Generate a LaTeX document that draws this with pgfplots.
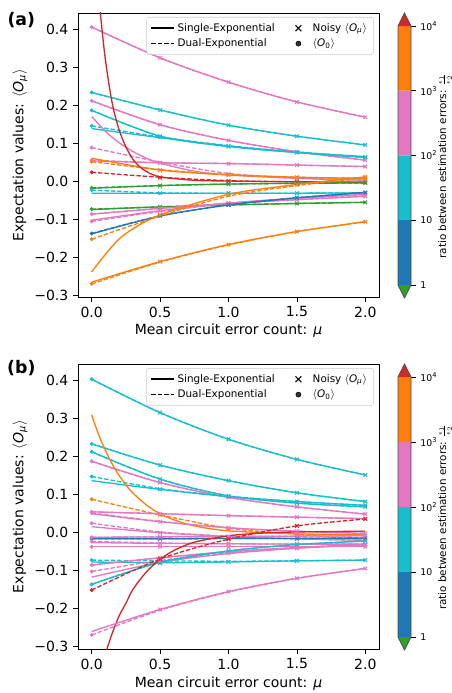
\documentclass[border=0pt]{standalone}
\usepackage{pgfplots}
\pgfplotsset{compat=1.18}
\usepackage{fontspec}
\setmainfont{DejaVu Sans}

\definecolor{cB}{HTML}{1F77B4}
\definecolor{cO}{HTML}{FF7F0E}
\definecolor{cG}{HTML}{2CA02C}
\definecolor{cR}{HTML}{D62728}
\definecolor{cP}{HTML}{E377C2}
\definecolor{cC}{HTML}{17BECF}

\pgfplotsset{
 fitS/.style={draw=#1, line width=1pt, smooth, mark=none},
 fitD/.style={draw=#1, line width=1pt, smooth, mark=none, dash pattern=on 3.3pt off 1.5pt},
 noisy/.style={color=#1, only marks, mark=x, mark size=1.9pt, mark options={line width=0.8pt}},
 truev/.style={color=#1, only marks, mark=*, mark size=1.3pt},
 mainax/.style={
  scale only axis, width=225.75pt,
  xmin=-0.1, xmax=2.1,
  xtick={0,0.5,1,1.5,2}, xticklabels={0.0,0.5,1.0,1.5,2.0},
  ytick={-0.3,-0.2,-0.1,0,0.1,0.2,0.3,0.4},
  yticklabels={−0.3,−0.2,−0.1,0.0,0.1,0.2,0.3,0.4},
  tick align=outside, tick pos=left,
  major tick length=3.7pt,
  every tick/.style={black, line width=0.6pt},
  axis line style={line width=0.6pt},
  ticklabel style={font=\fontsize{10.5}{12}\selectfont},
  xlabel={Mean circuit error count: \textit{μ}},
  ylabel={Expectation values: $\langle$\textit{O}\textsubscript{\textit{μ}}$\rangle$},
  label style={font=\fontsize{10.5}{12}\selectfont},
  xlabel style={at={(axis description cs:0.5,-0.12)}, anchor=center},
  ylabel style={at={(axis description cs:-0.193,0.5)}, anchor=center},
  legend columns=2,
  legend cell align=left,
  legend style={at={(axis description cs:0.983,0.986)}, anchor=north east,
   font=\fontsize{7.8}{9.5}\selectfont, draw=black!20, rounded corners=2pt,
   fill=white, fill opacity=0.8, text opacity=1, inner xsep=3pt, inner ysep=2.5pt,
   /tikz/every even column/.append style={column sep=7pt}},
 },
 cbar/.style={
  scale only axis, width=9.75pt, height=194.25pt,
  xmin=0, xmax=1, ymin=0, ymax=4, clip=false,
  axis line style={draw=none},
  xtick=\empty,
  ytick={0,1,2,3,4}, yticklabels={1,10,10\textsuperscript{2},10\textsuperscript{3},10\textsuperscript{4}},
  ytick pos=right, yticklabel pos=right,
  tick align=outside, major tick length=3.5pt,
  every tick/.style={black,line width=0.6pt},
  yticklabel style={font=\fontsize{7}{8}\selectfont},
  ylabel={ratio between estimation errors: ${\scriptstyle\frac{\epsilon_1}{\epsilon_2}}$},
  ylabel style={at={(axis description cs:3.62,0.46)}, anchor=center, font=\fontsize{7.8}{9}\selectfont},
 },
}
\newcommand\obs[5]{%
 \addplot[fitS=#1] coordinates {#3};
 \addplot[fitD=#1] coordinates {#4};
 \addplot[noisy=#1] coordinates {#5};
 \addplot[truev=#1] coordinates {(0,#2)};
}
\newcommand\legendset{%
 \addlegendimage{black, line width=1.2pt}
 \addlegendentry{Single-Exponential}
 \addlegendimage{legend image code/.code={%
   \draw[black, line width=0.8pt] (0.3cm-2.2pt,-2.2pt) -- (0.3cm+2.2pt,2.2pt) (0.3cm-2.2pt,2.2pt) -- (0.3cm+2.2pt,-2.2pt);
   \path (0cm,0cm) (0.6cm,0cm);}}
 \addlegendentry{Noisy $\langle$\textit{O}\textsubscript{\textit{μ}}$\rangle$}
 \addlegendimage{black, line width=0.8pt, dash pattern=on 3.3pt off 1.5pt}
 \addlegendentry{Dual-Exponential}
 \addlegendimage{legend image code/.code={%
   \fill[black] (0.3cm,0cm) circle (1.9pt);
   \path (0cm,0cm) (0.6cm,0cm);}}
 \addlegendentry{$\langle$\textit{O}\textsubscript{0}$\rangle$}
}
\newcommand\cbarbody{%
 \addplot[fill=cG, draw=none, mark=none] coordinates {(0,0) (1,0) (0.5,-0.2) (0,0)};
 \addplot[fill=cB, draw=none, mark=none] coordinates {(0,0) (1,0) (1,1) (0,1) (0,0)};
 \addplot[fill=cC, draw=none, mark=none] coordinates {(0,1) (1,1) (1,2) (0,2) (0,1)};
 \addplot[fill=cP, draw=none, mark=none] coordinates {(0,2) (1,2) (1,3) (0,3) (0,2)};
 \addplot[fill=cO, draw=none, mark=none] coordinates {(0,3) (1,3) (1,4) (0,4) (0,3)};
 \addplot[fill=cR, draw=none, mark=none] coordinates {(0,4) (1,4) (0.5,4.2) (0,4)};
 \addplot[draw=black!70, line width=0.6pt, mark=none] coordinates {(0,0) (0.5,-0.2) (1,0) (1,4) (0.5,4.2) (0,4) (0,0)};
}

\begin{document}
\begin{tikzpicture}
\useasboundingbox (0,0) rectangle (339pt,519.75pt);

% ---------------- panel (a)
\begin{axis}[mainax, at={(58.5pt,297pt)}, anchor=south west, height=213pt, ymin=-0.305, ymax=0.442]
\legendset
\obs{cP}{0.405}{(0,0.405) (0.5,0.324) (1,0.260) (1.5,0.208) (2,0.168)}{(0,0.405) (0.5,0.324) (1,0.260) (1.5,0.208) (2,0.168)}{(0.5,0.324) (1,0.260) (1.5,0.208) (2,0.168)}
\obs{cC}{0.233}{(0,0.233) (0.5,0.187) (1,0.147) (1.5,0.118) (2,0.095)}{(0,0.233) (0.5,0.187) (1,0.147) (1.5,0.118) (2,0.095)}{(0.5,0.187) (1,0.147) (1.5,0.118) (2,0.095)}
\obs{cP}{0.211}{(0,0.211) (0.5,0.148) (1,0.107) (1.5,0.077) (2,0.055)}{(0,0.211) (0.5,0.148) (1,0.107) (1.5,0.077) (2,0.055)}{(0.5,0.148) (1,0.107) (1.5,0.077) (2,0.055)}
\obs{cC}{0.186}{(0,0.186) (0.5,0.118) (1,0.091) (1.5,0.075) (2,0.062)}{(0,0.186) (0.5,0.118) (1,0.091) (1.5,0.075) (2,0.062)}{(0.5,0.118) (1,0.091) (1.5,0.075) (2,0.062)}
\obs{cC}{0.145}{(0,0.138) (0.5,0.114) (1,0.092) (1.5,0.076) (2,0.064)}{(0,0.145) (0.5,0.116) (1,0.093) (1.5,0.076) (2,0.064)}{(0.5,0.115) (1,0.092) (1.5,0.076) (2,0.063)}
\obs{cP}{0.088}{(0,0.170) (0.1,0.131) (0.2,0.101) (0.3,0.078) (0.4,0.060) (0.5,0.047) (0.75,0.026) (1,0.016) (1.5,0.007) (2,0.002)}{(0,0.088) (0.5,0.050) (1,0.020) (1.5,0.008) (2,0.003)}{(0.5,0.048) (1,0.018) (1.5,0.007) (2,0.002)}
\obs{cP}{0.055}{(0,0.053) (0.5,0.048) (1,0.046) (1.5,0.042) (2,0.038)}{(0,0.055) (0.5,0.048) (1,0.046) (1.5,0.042) (2,0.038)}{(0.5,0.048) (1,0.046) (1.5,0.042) (2,0.038)}
\obs{cO}{0.051}{(0,0.060) (0.5,0.029) (1,0.016) (1.5,0.010) (2,0.007)}{(0,0.051) (0.5,0.030) (1,0.017) (1.5,0.010) (2,0.007)}{(0.5,0.029) (1,0.016) (1.5,0.010) (2,0.007)}
\obs{cR}{0.023}{(0.04,0.54) (0.064,0.44) (0.1,0.32) (0.15,0.205) (0.2,0.135) (0.25,0.09) (0.3,0.058) (0.35,0.038) (0.4,0.025) (0.5,0.011) (0.75,0.002) (1,0.0) (1.5,-0.002) (2,-0.003)}{(0,0.023) (0.5,0.010) (1,0.001) (1.5,-0.002) (2,-0.004)}{(0.5,0.009) (1,0.0) (1.5,-0.002) (2,-0.004)}
\obs{cG}{-0.018}{(0,-0.019) (0.5,-0.012) (1,-0.008) (1.5,-0.006) (2,-0.005)}{(0,-0.018) (0.5,-0.012) (1,-0.008) (1.5,-0.006) (2,-0.005)}{(0.5,-0.012) (1,-0.008) (1.5,-0.006) (2,-0.005)}
\obs{cC}{-0.024}{(0,-0.032) (0.5,-0.032) (1,-0.032) (1.5,-0.032) (2,-0.031)}{(0,-0.024) (0.5,-0.031) (1,-0.032) (1.5,-0.032) (2,-0.031)}{(0.5,-0.032) (1,-0.032) (1.5,-0.032) (2,-0.031)}
\obs{cG}{-0.074}{(0,-0.075) (0.5,-0.068) (1,-0.063) (1.5,-0.059) (2,-0.056)}{(0,-0.074) (0.5,-0.068) (1,-0.063) (1.5,-0.059) (2,-0.056)}{(0.5,-0.068) (1,-0.063) (1.5,-0.059) (2,-0.056)}
\obs{cP}{-0.087}{(0,-0.087) (0.5,-0.072) (1,-0.059) (1.5,-0.049) (2,-0.040)}{(0,-0.087) (0.5,-0.072) (1,-0.059) (1.5,-0.049) (2,-0.040)}{(0.5,-0.072) (1,-0.059) (1.5,-0.049) (2,-0.040)}
\obs{cP}{-0.106}{(0,-0.103) (0.5,-0.078) (1,-0.058) (1.5,-0.045) (2,-0.035)}{(0,-0.106) (0.5,-0.080) (1,-0.059) (1.5,-0.046) (2,-0.036)}{(0.5,-0.078) (1,-0.058) (1.5,-0.045) (2,-0.035)}
\obs{cB}{-0.138}{(0,-0.139) (0.5,-0.092) (1,-0.063) (1.5,-0.044) (2,-0.030)}{(0,-0.138) (0.5,-0.092) (1,-0.063) (1.5,-0.044) (2,-0.030)}{(0.5,-0.092) (1,-0.063) (1.5,-0.044) (2,-0.030)}
\obs{cO}{-0.153}{(0,-0.239) (0.125,-0.182) (0.25,-0.138) (0.5,-0.089) (1,-0.035) (1.5,-0.009) (2,0.011)}{(0,-0.153) (0.5,-0.092) (1,-0.040) (1.5,-0.012) (2,0.008)}{(0.5,-0.089) (1,-0.035) (1.5,-0.009) (2,0.011)}
\obs{cO}{-0.270}{(0,-0.266) (0.5,-0.212) (1,-0.167) (1.5,-0.133) (2,-0.107)}{(0,-0.271) (0.5,-0.213) (1,-0.168) (1.5,-0.133) (2,-0.107)}{(0.5,-0.212) (1,-0.167) (1.5,-0.133) (2,-0.107)}
\end{axis}

\begin{axis}[cbar, at={(298.5pt,306pt)}, anchor=south west]
\cbarbody
\end{axis}

% ---------------- panel (b)
\begin{axis}[mainax, at={(58.5pt,33pt)}, anchor=south west, height=213.75pt, ymin=-0.308, ymax=0.442]
\legendset
\obs{cC}{0.402}{(0,0.402) (0.5,0.314) (1,0.244) (1.5,0.191) (2,0.150)}{(0,0.402) (0.5,0.314) (1,0.244) (1.5,0.191) (2,0.150)}{(0.5,0.314) (1,0.244) (1.5,0.191) (2,0.150)}
\obs{cC}{0.232}{(0,0.232) (0.5,0.176) (1,0.135) (1.5,0.103) (2,0.080)}{(0,0.232) (0.5,0.176) (1,0.135) (1.5,0.103) (2,0.080)}{(0.5,0.176) (1,0.135) (1.5,0.103) (2,0.080)}
\obs{cC}{0.211}{(0,0.211) (0.5,0.139) (1,0.095) (1.5,0.076) (2,0.066)}{(0,0.211) (0.5,0.139) (1,0.095) (1.5,0.076) (2,0.066)}{(0.5,0.139) (1,0.095) (1.5,0.076) (2,0.066)}
\obs{cP}{0.186}{(0,0.186) (0.5,0.130) (1,0.091) (1.5,0.066) (2,0.047)}{(0,0.186) (0.5,0.130) (1,0.091) (1.5,0.066) (2,0.047)}{(0.5,0.130) (1,0.091) (1.5,0.066) (2,0.047)}
\obs{cC}{0.146}{(0,0.135) (0.5,0.112) (1,0.093) (1.5,0.080) (2,0.070)}{(0,0.146) (0.5,0.114) (1,0.094) (1.5,0.080) (2,0.070)}{(0.5,0.112) (1,0.093) (1.5,0.080) (2,0.070)}
\obs{cO}{0.086}{(0,0.308) (0.05,0.257) (0.1,0.215) (0.15,0.179) (0.2,0.149) (0.25,0.124) (0.3,0.103) (0.4,0.071) (0.5,0.048) (0.6,0.032) (0.75,0.016) (1,0.003) (1.5,-0.005) (2,-0.007)}{(0,0.086) (0.5,0.045) (1,0.010) (1.5,-0.006) (2,-0.020)}{(0.5,0.045) (1,0.009) (1.5,-0.005) (2,-0.018)}
\obs{cP}{0.053}{(0,0.053) (0.5,0.048) (1,0.043) (1.5,0.039) (2,0.035)}{(0,0.053) (0.5,0.048) (1,0.043) (1.5,0.039) (2,0.035)}{(0.5,0.048) (1,0.043) (1.5,0.039) (2,0.035)}
\obs{cP}{0.050}{(0,0.048) (0.5,0.027) (1,0.011) (1.5,0.002) (2,-0.004)}{(0,0.050) (0.5,0.028) (1,0.011) (1.5,0.002) (2,-0.004)}{(0.5,0.027) (1,0.011) (1.5,0.002) (2,-0.004)}
\obs{cP}{0.023}{(0,0.014) (0.5,-0.002) (1,-0.012) (1.5,-0.018) (2,-0.022)}{(0,0.023) (0.5,0.000) (1,-0.011) (1.5,-0.018) (2,-0.022)}{(0.5,-0.002) (1,-0.012) (1.5,-0.018) (2,-0.022)}
\obs{cB}{-0.018}{(0,-0.018) (0.5,-0.018) (1,-0.017) (1.5,-0.017) (2,-0.016)}{(0,-0.018) (0.5,-0.018) (1,-0.017) (1.5,-0.017) (2,-0.016)}{(0.5,-0.018) (1,-0.017) (1.5,-0.017) (2,-0.016)}
\obs{cP}{-0.014}{(0,-0.014) (0.5,-0.013) (1,-0.012) (1.5,-0.011) (2,-0.010)}{(0,-0.014) (0.5,-0.013) (1,-0.012) (1.5,-0.011) (2,-0.010)}{(0.5,-0.013) (1,-0.012) (1.5,-0.011) (2,-0.010)}
\obs{cP}{-0.025}{(0,-0.028) (0.5,-0.030) (1,-0.031) (1.5,-0.032) (2,-0.032)}{(0,-0.025) (0.5,-0.029) (1,-0.031) (1.5,-0.032) (2,-0.032)}{(0.5,-0.030) (1,-0.031) (1.5,-0.032) (2,-0.032)}
\obs{cP}{-0.039}{(0,-0.039) (0.5,-0.039) (1,-0.039) (1.5,-0.039) (2,-0.039)}{(0,-0.039) (0.5,-0.039) (1,-0.039) (1.5,-0.039) (2,-0.039)}{(0.5,-0.039) (1,-0.039) (1.5,-0.039) (2,-0.039)}
\obs{cC}{-0.074}{(0,-0.079) (0.5,-0.081) (1,-0.079) (1.5,-0.076) (2,-0.074)}{(0,-0.074) (0.5,-0.076) (1,-0.077) (1.5,-0.076) (2,-0.074)}{(0.5,-0.082) (1,-0.079) (1.5,-0.076) (2,-0.074)}
\obs{cP}{-0.087}{(0,-0.087) (0.5,-0.068) (1,-0.052) (1.5,-0.041) (2,-0.033)}{(0,-0.087) (0.5,-0.068) (1,-0.052) (1.5,-0.041) (2,-0.033)}{(0.5,-0.068) (1,-0.052) (1.5,-0.041) (2,-0.033)}
\obs{cP}{-0.104}{(0,-0.119) (0.5,-0.080) (1,-0.057) (1.5,-0.043) (2,-0.034)}{(0,-0.104) (0.5,-0.075) (1,-0.055) (1.5,-0.042) (2,-0.033)}{(0.5,-0.078) (1,-0.056) (1.5,-0.043) (2,-0.034)}
\obs{cC}{-0.138}{(0,-0.138) (0.5,-0.080) (1,-0.050) (1.5,-0.033) (2,-0.024)}{(0,-0.138) (0.5,-0.080) (1,-0.050) (1.5,-0.033) (2,-0.024)}{(0.5,-0.080) (1,-0.050) (1.5,-0.033) (2,-0.024)}
\obs{cR}{-0.153}{(0.08,-0.346) (0.1,-0.321) (0.15,-0.267) (0.2,-0.221) (0.25,-0.188) (0.3,-0.152) (0.4,-0.105) (0.5,-0.072) (0.6,-0.049) (0.75,-0.027) (1,-0.010) (1.25,-0.003) (1.5,0.000) (2,0.002)}{(0,-0.153) (0.5,-0.071) (1,-0.019) (1.5,0.016) (2,0.034)}{(0.5,-0.071) (1,-0.019) (1.5,0.016) (2,0.034)}
\obs{cP}{-0.271}{(0,-0.262) (0.5,-0.204) (1,-0.157) (1.5,-0.122) (2,-0.096)}{(0,-0.271) (0.5,-0.206) (1,-0.158) (1.5,-0.122) (2,-0.096)}{(0.5,-0.204) (1,-0.157) (1.5,-0.122) (2,-0.096)}
\end{axis}

\begin{axis}[cbar, at={(298.5pt,42pt)}, anchor=south west, height=195pt]
\cbarbody
\end{axis}

\node[font=\fontsize{13}{15}\selectfont\bfseries] at (16pt,505pt) {(a)};
\node[font=\fontsize{13}{15}\selectfont\bfseries] at (16pt,243.5pt) {(b)};
\end{tikzpicture}
\end{document}
